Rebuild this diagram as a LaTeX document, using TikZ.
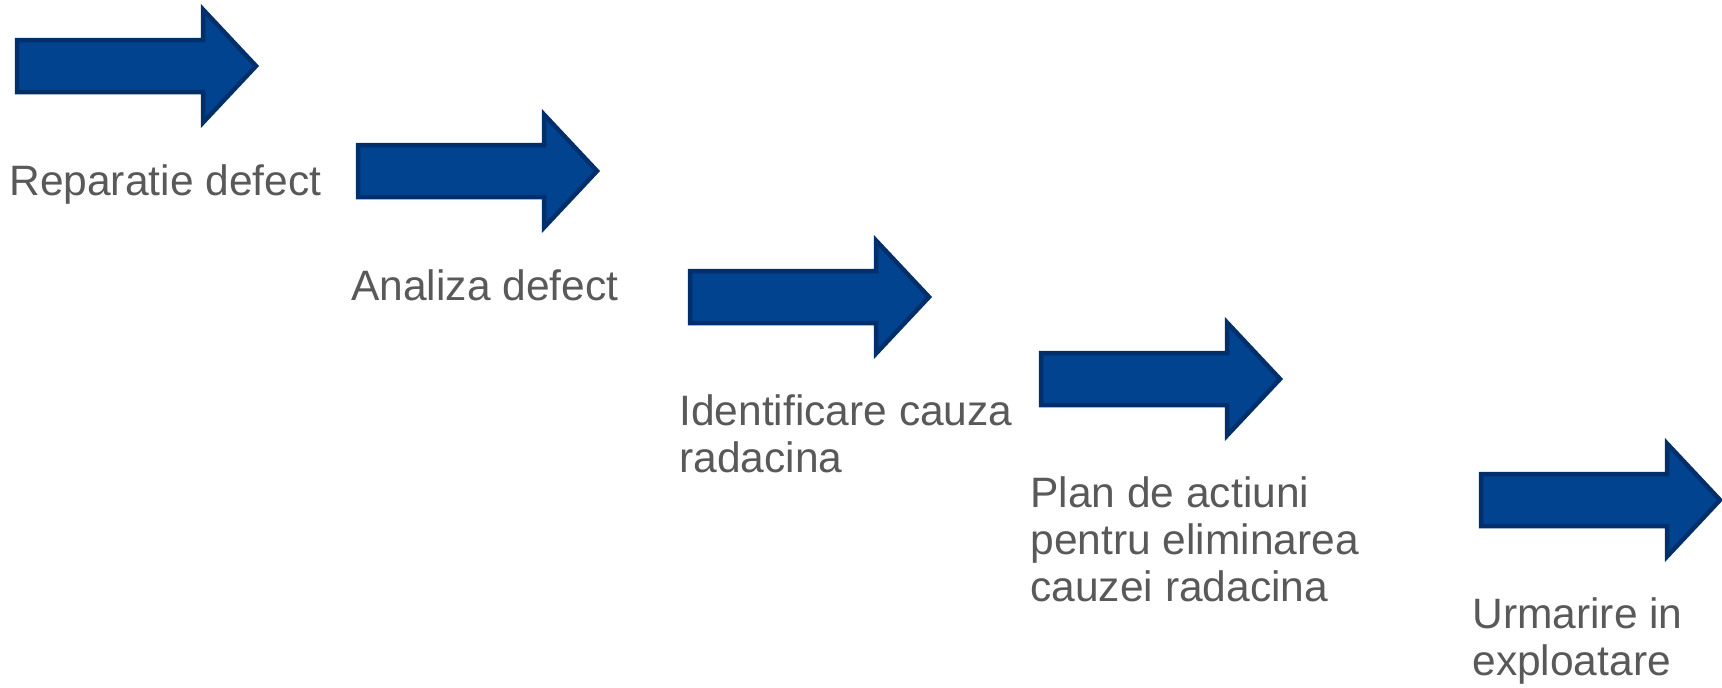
\documentclass[tikz,border=0pt]{standalone}
\usepackage{fontspec}
\setmainfont{Liberation Sans}

\definecolor{arrowblue}{RGB}{2,67,143}
\definecolor{arrowline}{RGB}{0,47,108}
\definecolor{labelgray}{RGB}{89,89,89}

\tikzset{
  blockarrow/.pic={
    \draw[draw=arrowline, fill=arrowblue, line width=0.09cm, line join=miter]
      (-239,-26) -- (-53,-26) -- (-53,-56.5) -- (0,0)
      -- (-53,56.5) -- (-53,26) -- (-239,26) -- cycle;
  },
  steplabel/.style={anchor=base west, inner sep=0pt, align=left,
    text=labelgray, font=\fontsize{24.2}{26.7}\selectfont}
}

\begin{document}
\begin{tikzpicture}[x=0.02cm, y=-0.02cm]
      \useasboundingbox (0,0) rectangle (1722,687);
      % arrows (tips)
      \coordinate (t1) at (256,66);
      \coordinate (t2) at (597,171);
      \coordinate (t3) at (929,297);
      \coordinate (t4) at (1280,379);
      \coordinate (t5) at (1720,500);
      \pic at (t1) {blockarrow};
      \pic at (t2) {blockarrow};
      \pic at (t3) {blockarrow};
      \pic at (t4) {blockarrow};
      \pic at (t5) {blockarrow};
      % labels, placed at the baseline of the last line
      \node[steplabel] (l1) at (9,195) {Reparatie defect};
      \node[steplabel] (l2) at (351,300) {Analiza defect};
      \node[steplabel] (l3) at (679,472) {Identificare cauza\\radacina};
      \node[steplabel] (l4) at (1030,601) {Plan de actiuni\\pentru eliminarea\\cauzei radacina};
      \node[steplabel] (l5) at (1472,675) {Urmarire in\\exploatare};
    \end{tikzpicture}
\end{document}
